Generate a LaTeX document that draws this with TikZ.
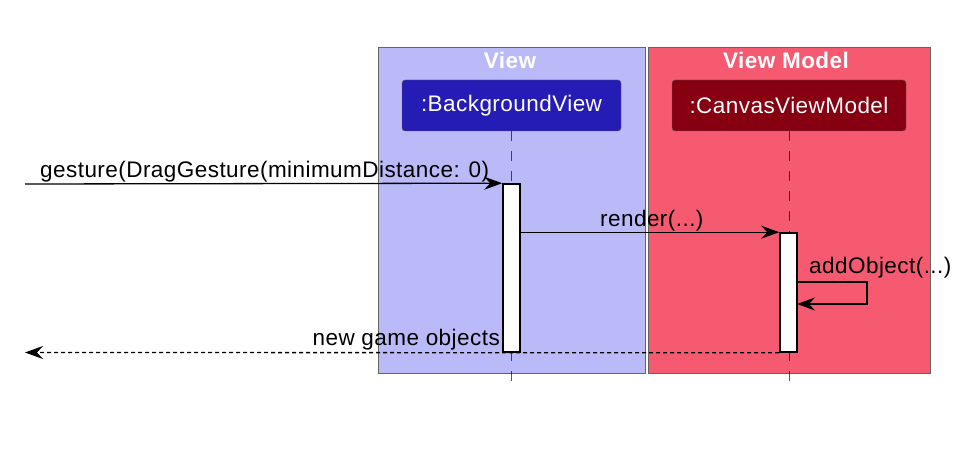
\documentclass[tikz,border=0pt]{standalone}
\usepackage{fontspec}
\setmainfont{Liberation Sans}
\usetikzlibrary{arrows.meta}
\definecolor{viewbg}{RGB}{186,186,248}
\definecolor{vmbg}{RGB}{245,90,112}
\definecolor{bgpart}{RGB}{37,27,181}
\definecolor{vmpart}{RGB}{134,0,18}
\definecolor{framegray}{RGB}{100,100,100}
\tikzset{
  groupbox/.style={draw=framegray, line width=0.8pt, anchor=north west, inner sep=0pt},
  grouptitle/.style={text=white, font=\fontsize{22.5}{26}\selectfont\bfseries\addfontfeature{LetterSpace=2}, anchor=base},
  participant/.style={draw=black!60, rounded corners=3pt, minimum width=#1, minimum height=51pt, inner sep=0pt, text=white},
  lifeline/.style={draw=black, opacity=0.65, line width=0.9pt, dash pattern=on 10pt off 10pt},
  actbar/.style={draw=black, fill=white, line width=1.6pt, minimum width=17pt, inner sep=0pt},
  msg/.style={draw=black, line width=1.3pt, -{Stealth[length=18pt,width=13pt,inset=6pt]}},
  retmsg/.style={msg, dash pattern=on 4pt off 3pt},
  lbl/.style={text=black, inner sep=0pt}
}
\begin{document}
\begin{tikzpicture}[x=1pt,y=-1pt, font=\fontsize{22.5}{26}\selectfont\addfontfeature{LetterSpace=2}]
\useasboundingbox[fill=white] (0,0) rectangle (973,462);
% groups
\node[groupbox, fill=viewbg, minimum width=267pt, minimum height=326pt] (viewgrp) at (378,47) {};
\node[groupbox, fill=vmbg, minimum width=282pt, minimum height=326pt] (vmgrp) at (648,47) {};
\node[grouptitle] (viewtitle) at (510,69) {View};
\node[grouptitle] (vmtitle) at (786,69) {View Model};
% participants
\node[participant=219pt, fill=bgpart] (bgv) at (511.5,105.5) {:BackgroundView};
\node[participant=234pt, fill=vmpart] (cvm) at (789,105.5) {:CanvasViewModel};
% lifelines
\coordinate (l1end) at (511.5,384);
\coordinate (l2end) at (789,384);
\draw[lifeline] (bgv.south) -- (l1end);
\draw[lifeline] (cvm.south) -- (l2end);
% activation bars
\node[actbar, minimum height=168pt] (act1) at (511.5,268) {};
\node[actbar, minimum height=119pt] (act2) at (788.5,292.5) {};
% messages
\coordinate (gstart) at (25,184);
\draw[msg] (gstart) -- (act1.north west);
\node[lbl, anchor=base west] (glbl) at (40,178) {gesture(DragGesture(minimumDistance: 0)};
\draw[msg] (act1.east |- act2.north) -- (act2.north west);
\node[lbl, anchor=base west] (rlbl) at (600,226) {render(...)};
\coordinate (selfa) at (797,282);
\coordinate (selfb) at (867,282);
\coordinate (selfc) at (867,304);
\coordinate (selfd) at (797,304);
\draw[msg] (selfa) -- (selfb) -- (selfc) -- (selfd);
\node[lbl, anchor=base west] (albl) at (809,273) {addObject(...)};
\coordinate (rend) at (25,352.5);
\draw[retmsg] (act2.south west) -- (rend);
\node[lbl, anchor=base east] (nlbl) at (500,345) {new game objects};
\end{tikzpicture}
\end{document}
